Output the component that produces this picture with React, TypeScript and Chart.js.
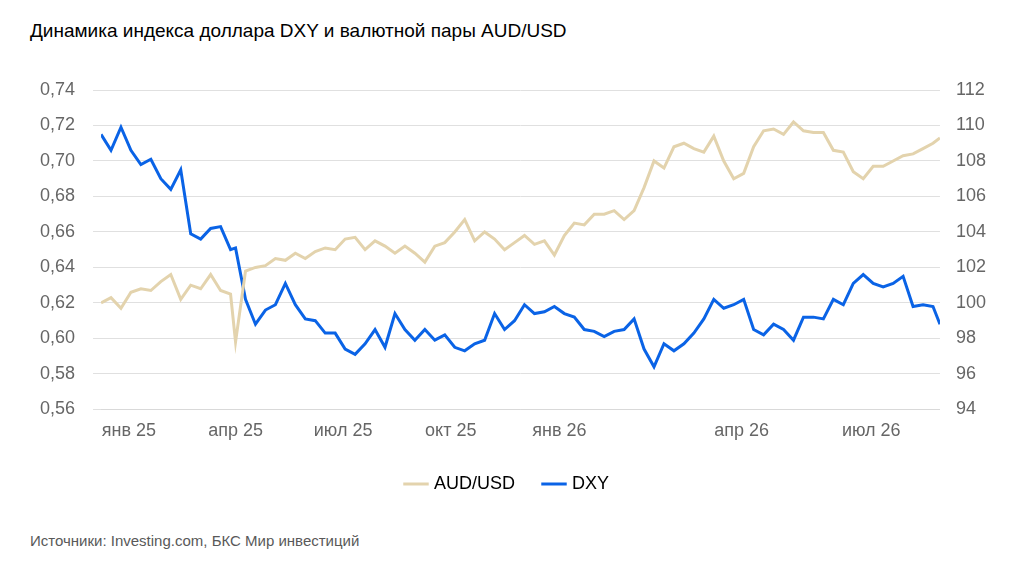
import React, { useEffect, useRef } from "react";
import { Chart, registerables } from "chart.js";
Chart.register(...registerables);

const xIdx = [0,10,20,30,40,50,60,70,80,90,100,110,120,130,135,145,155,165,175,185,195,205,215,225,235,245,255,265,275,285,295,305,315,325,335,345,355,365,375,385,395,405,415,425,435,445,455,465,475,485,495,505,515,525,535,545,555,565,575,585,595,605,615,625,635,645,655,665,675,685,695,705,715,725,735,745,755,765,775,785,795,805,815,825,835,842];
const audusd = [0.620,0.623,0.617,0.626,0.628,0.627,0.632,0.636,0.622,0.630,0.628,0.636,0.627,0.625,0.598,0.638,0.640,0.641,0.645,0.644,0.648,0.645,0.649,0.651,0.650,0.656,0.657,0.650,0.655,0.652,0.648,0.652,0.648,0.643,0.652,0.654,0.660,0.667,0.655,0.660,0.656,0.650,0.654,0.658,0.653,0.655,0.647,0.658,0.665,0.664,0.670,0.670,0.672,0.667,0.672,0.685,0.700,0.696,0.708,0.710,0.707,0.705,0.714,0.700,0.690,0.693,0.708,0.717,0.718,0.715,0.722,0.717,0.716,0.716,0.706,0.705,0.694,0.690,0.697,0.697,0.700,0.703,0.704,0.707,0.710,0.713];
const dxy = [109.5,108.6,109.9,108.6,107.8,108.1,107.0,106.4,107.5,103.9,103.6,104.2,104.3,103.0,103.1,100.2,98.8,99.6,99.9,101.1,99.9,99.1,99.0,98.3,98.3,97.4,97.1,97.7,98.5,97.5,99.4,98.5,97.9,98.5,97.9,98.2,97.5,97.3,97.7,97.9,99.4,98.5,99.0,99.9,99.4,99.5,99.8,99.4,99.2,98.5,98.4,98.1,98.4,98.5,99.1,97.4,96.4,97.7,97.3,97.7,98.3,99.1,100.2,99.7,99.9,100.2,98.5,98.2,98.8,98.5,97.9,99.2,99.2,99.1,100.2,99.9,101.1,101.6,101.1,100.9,101.1,101.5,99.8,99.9,99.8,98.8];
const tickPos = [28,135,243,351,460,643,773];
const tickLabels = ["янв 25","апр 25","июл 25","окт 25","янв 26","апр 26","июл 26"];

export default function App() {
  const ref = useRef<HTMLCanvasElement>(null);
  useEffect(() => {
    const font = { family: "Liberation Sans, Arial, sans-serif", size: 18 };
    const chart = new Chart(ref.current!, {
      type: "line",
      data: {
        datasets: [
          { label: "AUD/USD", data: xIdx.map((x, i) => ({ x, y: audusd[i] })), borderColor: "#e3d3ad", backgroundColor: "#e3d3ad", borderWidth: 3, pointRadius: 0, yAxisID: "y", tension: 0 },
          { label: "DXY", data: xIdx.map((x, i) => ({ x, y: dxy[i] })), borderColor: "#0a63e6", backgroundColor: "#0a63e6", borderWidth: 3, pointRadius: 0, yAxisID: "y1", tension: 0 },
        ],
      },
      options: {
        animation: false, responsive: false,
        layout: { padding: { top: 90, left: 22, right: 30, bottom: 12 } },
        plugins: {
          legend: { position: "bottom", labels: { font, color: "#000", usePointStyle: true, pointStyle: "line", boxWidth: 55, padding: 30 } },
          tooltip: { enabled: false },
        },
        scales: {
          x: {
            type: "linear", min: 0, max: 842,
            afterBuildTicks: (ax: any) => { ax.ticks = tickPos.map((v) => ({ value: v })); },
            ticks: { font, color: "#666", autoSkip: false, maxRotation: 0, callback: (v: any) => tickLabels[tickPos.indexOf(v)] ?? "" },
            grid: { display: false }, border: { display: true, color: "#d9d9d9" },
          },
          y: {
            min: 0.56, max: 0.74,
            ticks: { stepSize: 0.02, font, color: "#666", padding: 18, callback: (v: any) => Number(v).toFixed(2).replace(".", ",") },
            grid: { color: "#e0e0e0" }, border: { display: false },
          },
          y1: {
            position: "right", min: 94, max: 112,
            ticks: { stepSize: 2, font, color: "#666", padding: 8 },
            grid: { display: false }, border: { display: false },
          },
        },
      },
    });
    return () => chart.destroy();
  }, []);
  return (
    <div style={{ position: "relative", width: 1024, height: 567, margin: -8, fontFamily: "Liberation Sans, Arial, sans-serif", background: "#fff" }}>
      <div style={{ position: "absolute", left: 30, top: 20, fontSize: 19, color: "#000" }}>Динамика индекса доллара DXY и валютной пары AUD/USD</div>
      <canvas ref={ref} width={1024} height={515} style={{ position: "absolute", left: 0, top: 0 }} />
      <div style={{ position: "absolute", left: 30, top: 532, fontSize: 15, color: "#595959" }}>Источники: Investing.com, БКС Мир инвестиций</div>
    </div>
  );
}
